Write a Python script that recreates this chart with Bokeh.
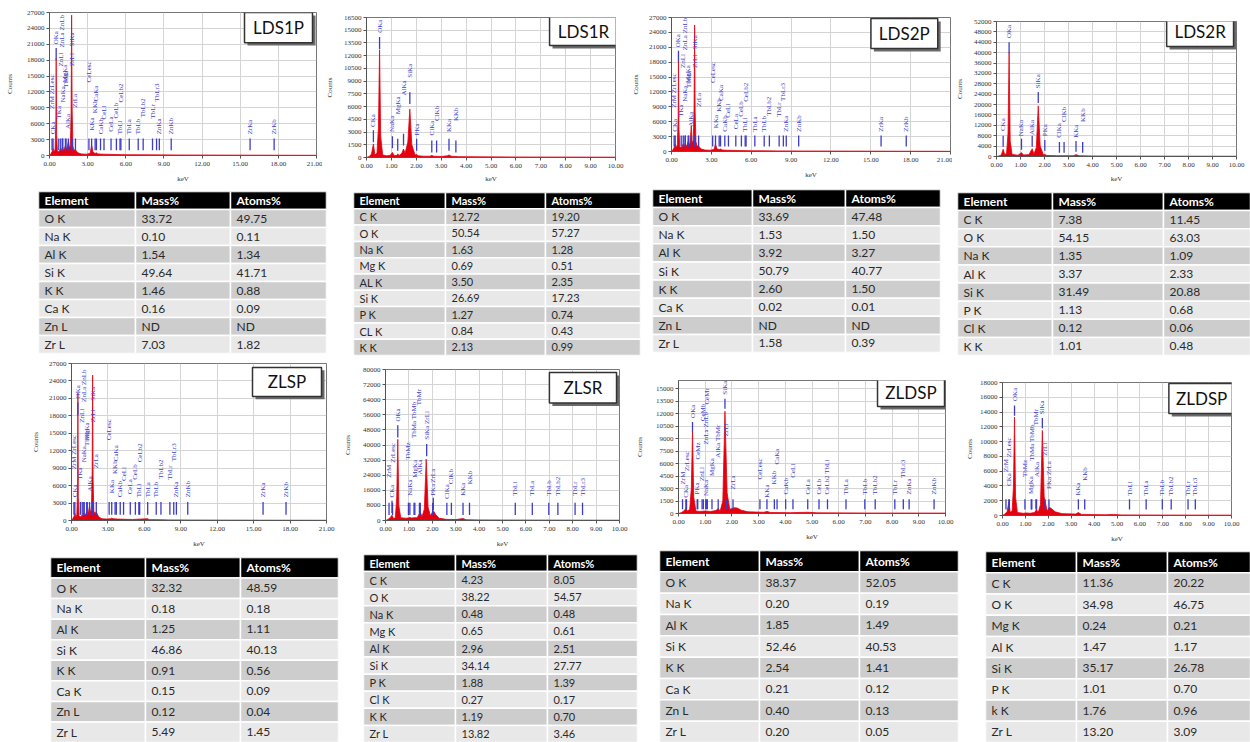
import math
from bokeh.plotting import figure
from bokeh.models import Range1d, FixedTicker, NumeralTickFormatter, BoxAnnotation, Label
from bokeh.layouts import column, row
from bokeh.core.properties import value
from bokeh.embed import file_html
from bokeh.resources import INLINE

RED = "#e3000f"
BLUE = "#3c3cc8"
SERIF = "Liberation Serif"
SANS = "Lato"
HEAD, DARK, LIGHT = "#000000", "#cdcdcd", "#e8e8e8"

# ---------------- spectra data (keV, counts) ----------------
LDS1P_E = [0.00, 0.10, 0.20, 0.28, 0.36, 0.44, 0.50, 0.525, 0.56, 0.62, 0.70, 0.80, 0.88, 0.95, 1.04, 1.10,
           1.18, 1.25, 1.32, 1.40, 1.49, 1.56, 1.64, 1.70, 1.74, 1.78, 1.84, 1.92, 2.04, 2.12, 2.25, 2.50,
           2.90, 3.20, 3.31, 3.42, 3.60, 3.69, 3.80, 4.20, 5.00, 6.00, 8.00, 10.00, 13.00, 16.00, 21.00]
LDS1P_C = [0, 300, 700, 1300, 600, 1200, 6000, 18300, 4000, 900, 700, 900, 1400, 800, 1600, 900,
           1300, 1900, 1200, 1600, 2800, 1500, 1800, 8000, 26500, 9000, 1800, 1000, 1100, 800, 500, 300,
           250, 400, 2000, 600, 400, 500, 300, 250, 200, 150, 120, 100, 80, 60, 40]

LDS1R_E = [0, 0.10, 0.20, 0.277, 0.34, 0.42, 0.48, 0.525, 0.57, 0.65, 0.80, 0.95, 1.041, 1.10, 1.20, 1.254,
           1.32, 1.42, 1.487, 1.55, 1.66, 1.74, 1.82, 1.95, 2.013, 2.08, 2.30, 2.55, 2.622, 2.70, 3.00,
           3.25, 3.313, 3.40, 3.70, 4.50, 6.00, 8.00, 10.00]
LDS1R_C = [0, 100, 400, 1600, 300, 500, 3500, 12700, 2500, 300, 200, 250, 600, 250, 250, 400,
           250, 500, 1000, 500, 1800, 5700, 1500, 300, 350, 200, 150, 150, 250, 150, 120,
           200, 300, 150, 100, 80, 60, 50, 40]

LDS2P_E = [0.00, 0.10, 0.20, 0.28, 0.36, 0.44, 0.50, 0.525, 0.56, 0.62, 0.70, 0.80, 0.88, 0.95, 1.04, 1.10,
           1.18, 1.25, 1.32, 1.40, 1.49, 1.56, 1.64, 1.70, 1.74, 1.78, 1.84, 1.92, 2.04, 2.12, 2.25, 2.50,
           2.90, 3.20, 3.31, 3.42, 3.60, 3.69, 3.80, 4.20, 5.00, 6.00, 8.00, 10.00, 13.00, 16.00, 21.00]
LDS2P_C = [0, 300, 800, 1500, 700, 1400, 6500, 19600, 4500, 1000, 800, 1000, 1500, 900, 1700, 1000,
           1400, 2000, 1300, 1800, 5200, 1700, 2200, 9000, 25500, 8000, 2000, 1100, 1100, 800, 500, 300,
           250, 400, 1500, 500, 400, 500, 300, 250, 200, 150, 120, 100, 80, 60, 40]

LDS2R_E = [0, 0.10, 0.20, 0.277, 0.34, 0.42, 0.48, 0.525, 0.57, 0.65, 0.90, 1.041, 1.12, 1.35, 1.487,
           1.56, 1.66, 1.74, 1.82, 1.95, 2.013, 2.10, 2.50, 3.20, 3.313, 3.45, 4.0, 6.0, 10.0]
LDS2R_C = [0, 200, 600, 2800, 800, 1200, 9000, 40000, 6000, 800, 500, 1500, 600, 700, 3000,
           900, 3500, 19500, 4000, 700, 800, 400, 300, 300, 700, 300, 200, 150, 100]

ZLSP_E = [0.00, 0.10, 0.20, 0.28, 0.36, 0.44, 0.50, 0.525, 0.56, 0.62, 0.70, 0.80, 0.88, 0.95, 1.04, 1.10,
          1.18, 1.25, 1.32, 1.40, 1.49, 1.56, 1.64, 1.70, 1.74, 1.78, 1.84, 1.95, 2.04, 2.12, 2.25, 2.50,
          2.90, 3.20, 3.31, 3.42, 3.80, 4.50, 5.00, 6.27, 6.40, 7.00, 8.00, 10.00, 13.00, 16.00, 21.00]
ZLSP_C = [0, 300, 700, 1200, 600, 1000, 5500, 21900, 4000, 800, 600, 700, 1000, 800, 1300, 900,
          1100, 1500, 1200, 1500, 2500, 1400, 1800, 8000, 25000, 7000, 1600, 1200, 1500, 1100, 600, 300,
          250, 300, 400, 300, 250, 200, 180, 300, 150, 150, 100, 80, 60, 50, 40]

ZLSR_E = [0, 0.10, 0.20, 0.277, 0.34, 0.42, 0.48, 0.525, 0.57, 0.65, 0.85, 0.98, 1.041, 1.12, 1.254, 1.35,
          1.487, 1.56, 1.66, 1.74, 1.82, 1.92, 2.042, 2.15, 2.30, 2.60, 3.0, 3.313, 3.45, 4.0, 5.0, 7.0, 10.0]
ZLSR_C = [0, 500, 1500, 2800, 1000, 1500, 12000, 43000, 8000, 1500, 1200, 1300, 1600, 1300, 1500, 1400,
          4400, 2000, 6000, 32500, 7000, 2500, 5200, 3000, 1200, 600, 500, 1000, 400, 300, 250, 200, 150]

ZLDSP1_E = [0, 0.10, 0.20, 0.277, 0.34, 0.42, 0.48, 0.525, 0.57, 0.65, 0.80, 1.00, 1.20, 1.40, 1.487, 1.56,
            1.66, 1.74, 1.82, 1.92, 2.00, 2.10, 2.20, 2.35, 2.60, 3.20, 3.313, 3.45, 4.20, 4.84, 5.20, 7.0, 10.0]
ZLDSP1_C = [0, 100, 300, 600, 300, 500, 3000, 9800, 2000, 300, 250, 300, 250, 350, 600, 300,
            1500, 12300, 2500, 500, 600, 700, 650, 400, 200, 150, 250, 120, 100, 150, 80, 60, 50]

ZLDSP2_E = [0, 0.10, 0.20, 0.277, 0.34, 0.42, 0.48, 0.525, 0.57, 0.65, 0.90, 1.041, 1.20, 1.40, 1.487, 1.56,
            1.66, 1.74, 1.82, 1.95, 2.05, 2.15, 2.30, 2.60, 3.20, 3.313, 3.45, 4.5, 4.84, 5.2, 7.0, 10.0]
ZLDSP2_C = [0, 200, 500, 1800, 400, 600, 4000, 13300, 2500, 400, 300, 350, 300, 400, 800, 400,
            1500, 11500, 2500, 600, 1100, 900, 500, 250, 200, 400, 150, 100, 150, 80, 60, 50]

# ---------------- peak markers (label, keV, label base counts, marker top counts) ----------------
P_LAB = ["CKa", "ZrM ZrLesc", "TKa", "OKa", "ZnLl", "ZnLa ZnLb", "NaKa", "MgKa", "TbMa", "AlKa", "SiKa",
         "ZrLl", "ZrLa", "CeLesc", "KKa", "KKb", "CaKa", "CaKb", "CeLl", "CeLa", "CeLb", "CeLb2", "TbLl",
         "TbLa", "TbLb", "TbLb2", "TbLr", "TbLr3", "ZnKa", "ZnKb", "ZrKa", "ZrKb"]
P_KEV = [0.277, 0.20, 0.73, 0.525, 0.884, 1.02, 1.041, 1.254, 1.30, 1.487, 1.74, 1.792, 2.042, 3.10, 3.313,
         3.59, 3.691, 4.013, 4.287, 4.84, 5.262, 5.613, 5.546, 6.273, 6.978, 7.367, 8.102, 8.42, 8.638,
         9.572, 15.775, 17.668]
P_LY = [4000, 8800, 7000, 21000, 16800, 20400, 10000, 13800, 12800, 5000, 20600, 16900, 9000, 13800, 4700,
        8000, 10200, 4000, 6800, 4500, 7000, 10000, 4000, 4000, 4000, 7200, 7000, 10200, 4000, 4000, 4000, 4000]
P_MT = [3200, 3200, 3200, 20300] + [3200] * 28

LDS1R_LAB = ["CKa", "OKa", "NaKa", "MgKa", "AlKa", "SiKa", "PKa", "ClKa", "ClKb", "KKa", "KKb"]
LDS1R_KEV = [0.277, 0.525, 1.041, 1.254, 1.487, 1.740, 2.013, 2.622, 2.816, 3.313, 3.590]
LDS1R_LY = [3600, 14700, 3000, 5100, 7300, 9400, 2600, 2600, 4300, 3000, 4300]
LDS1R_MT = [3200, 14200, 2500, 2200, 2800, 7700, 2200, 2000, 2000, 2200, 2000]

LDS2R_LAB = ["CKa", "OKa", "NaKa", "AlKa", "SiKa", "PKa", "ClKa", "ClKb", "KKa", "KKb"]
LDS2R_KEV = [0.277, 0.525, 1.041, 1.487, 1.740, 2.013, 2.622, 2.816, 3.313, 3.590]
LDS2R_LY = [9800, 45600, 7800, 8300, 26300, 7800, 7200, 13300, 7200, 13300]
LDS2R_MT = [8000, 44000, 6800, 8000, 24800, 6400, 5600, 5600, 6000, 5600]

ZLSR_LAB = ["ZrM", "CKa", "ZrLesc", "OKa", "TbMz", "NaKa", "MgKa", "TbMa TbMb", "TbMr", "AlKa", "SiKa ZrLl",
            "PKa", "ZrLa", "ClKa", "ClKb", "KKa", "KKb", "TbLl", "TbLa", "TbLb", "TbLb2", "TbLr", "TbLr3"]
ZLSR_KEV = [0.151, 0.277, 0.30, 0.525, 0.98, 1.041, 1.254, 1.22, 1.45, 1.487, 1.76, 2.013, 2.042, 2.622,
            2.816, 3.313, 3.590, 5.546, 6.273, 6.978, 7.367, 8.102, 8.42]
ZLSR_LY = [22700, 12200, 30600, 52400, 32300, 13100, 22700, 43700, 61100, 24400, 42800, 13100, 20000,
           11400, 19200, 13100, 19200, 13100, 13100, 13100, 13100, 13100, 13100]
ZLSR_MT = [9400, 10500, 9400, 50500, 9400, 9400, 9400, 9400, 9400, 9400, 40500, 9400, 12000, 9400, 9400,
           9400, 9400, 9400, 9400, 9400, 9400, 9400, 9400]

ZLDSP1_LAB = ["ZrM", "CKa", "ZrLesc", "OKa", "PKa", "CeMz", "ZnLl", "CeMb", "NaKa", "ZnLa ZnLb", "CeMr",
              "MgKa", "AlKa TbMr", "SiKa", "ZrLl", "ZrLa", "CeLesc", "KKa", "KKb", "CaKa", "CaKb", "CeLl",
              "CeLa", "CeLb", "CeLb2 TbLl", "TbLa", "TbLb", "TbLb2", "TbLr", "TbLr3", "ZnKa", "ZnKb"]
ZLDSP1_KEV = [0.151, 0.277, 0.30, 0.525, 0.70, 0.72, 0.884, 0.93, 1.041, 1.02, 1.08, 1.254, 1.487, 1.74,
              1.79, 2.042, 3.05, 3.313, 3.59, 3.691, 4.013, 4.287, 4.84, 5.262, 5.58, 6.273, 6.978, 7.367,
              8.102, 8.42, 8.638, 9.572]
ZLDSP1_LY = [3500, 1900, 5100, 11500, 2300, 6500, 3900, 11100, 2100, 8300, 13100, 4500, 6700, 14300, 9300,
             2900, 4100, 1900, 3500, 5900, 2300, 4300, 2300, 2300, 2300, 2300, 2300, 2300, 2300, 4300, 2300, 2300]
ZLDSP1_MT = [1700, 1700, 1700, 11000] + [1700] * 9 + [13800] + [1700] * 18

ZLDSP2_LAB = ["ZrM", "CKa", "ZrLesc", "OKa", "TbMz", "MgKa", "TbMa TbMb", "TbMr", "AlKa", "SiKa", "ZrLl",
              "PKa ZrLa", "KKa", "KKb", "TbLl", "TbLa", "TbLb", "TbLb2", "TbLr", "TbLr3"]
ZLDSP2_KEV = [0.151, 0.277, 0.30, 0.525, 0.98, 1.254, 1.28, 1.46, 1.487, 1.74, 1.86, 2.03, 3.313, 3.59,
              5.546, 6.273, 6.978, 7.367, 8.102, 8.42]
ZLDSP2_LY = [5900, 4000, 7900, 15500, 5200, 2900, 7400, 12200, 5200, 13700, 8100, 3600, 2700, 4700,
             2700, 2700, 2700, 2700, 2700, 2700]
ZLDSP2_MT = [2200, 2200, 2200, 14900, 2200, 2200, 2200, 2200, 2200, 13200] + [2200] * 10

# ---------------- axis ticks ----------------
X21 = [0, 3, 6, 9, 12, 15, 18, 21]
X10 = [0, 1, 2, 3, 4, 5, 6, 7, 8, 9, 10]
Y27 = [0, 3000, 6000, 9000, 12000, 15000, 18000, 21000, 24000, 27000]
Y165 = [0, 1500, 3000, 4500, 6000, 7500, 9000, 10500, 12000, 13500, 15000, 16500]
Y52 = [0, 4000, 8000, 12000, 16000, 20000, 24000, 28000, 32000, 36000, 40000, 44000, 48000, 52000]
Y80 = [0, 8000, 16000, 24000, 32000, 40000, 48000, 56000, 64000, 72000, 80000]
Y15 = [0, 1500, 3000, 4500, 6000, 7500, 9000, 10500, 12000, 13500, 15000]
Y18 = [0, 2000, 4000, 6000, 8000, 10000, 12000, 14000, 16000, 18000]

# ---------------- composition tables ----------------
T_LDS1P_EL = ["O K", "Na K", "Al K", "Si  K", "K  K", "Ca K", "Zn L", "Zr L"]
T_LDS1P_MA = ["33.72", "0.10", "1.54", "49.64", "1.46", "0.16", "ND", "7.03"]
T_LDS1P_AT = ["49.75", "0.11", "1.34", "41.71", "0.88", "0.09", "ND", "1.82"]

T_LDS1R_EL = ["C K", "O K", "Na K", "Mg  K", "AL  K", "Si K", "P K", "CL K", "K K"]
T_LDS1R_MA = ["12.72", "50.54", "1.63", "0.69", "3.50", "26.69", "1.27", "0.84", "2.13"]
T_LDS1R_AT = ["19.20", "57.27", "1.28", "0.51", "2.35", "17.23", "0.74", "0.43", "0.99"]

T_LDS2P_EL = ["O K", "Na K", "Al K", "Si  K", "K  K", "Ca K", "Zn L", "Zr L"]
T_LDS2P_MA = ["33.69", "1.53", "3.92", "50.79", "2.60", "0.02", "ND", "1.58"]
T_LDS2P_AT = ["47.48", "1.50", "3.27", "40.77", "1.50", "0.01", "ND", "0.39"]

T_LDS2R_EL = ["C K", "O K", "Na K", "Al K", "Si  K", "P K", "Cl K", "K K"]
T_LDS2R_MA = ["7.38", "54.15", "1.35", "3.37", "31.49", "1.13", "0.12", "1.01"]
T_LDS2R_AT = ["11.45", "63.03", "1.09", "2.33", "20.88", "0.68", "0.06", "0.48"]

T_ZLSP_EL = ["O K", "Na K", "Al K", "Si  K", "K  K", "Ca K", "Zn L", "Zr L"]
T_ZLSP_MA = ["32.32", "0.18", "1.25", "46.86", "0.91", "0.15", "0.12", "5.49"]
T_ZLSP_AT = ["48.59", "0.18", "1.11", "40.13", "0.56", "0.09", "0.04", "1.45"]

T_ZLSR_EL = ["C K", "O K", "Na K", "Mg K", "Al K", "Si K", "P K", "Cl K", "K K", "Zr L"]
T_ZLSR_MA = ["4.23", "38.22", "0.48", "0.65", "2.96", "34.14", "1.88", "0.27", "1.19", "13.82"]
T_ZLSR_AT = ["8.05", "54.57", "0.48", "0.61", "2.51", "27.77", "1.39", "0.17", "0.70", "3.46"]

T_ZLDSP1_EL = ["O K", "Na K", "Al K", "Si  K", "K  K", "Ca K", "Zn L", "Zr L"]
T_ZLDSP1_MA = ["38.37", "0.20", "1.85", "52.46", "2.54", "0.21", "0.40", "0.20"]
T_ZLDSP1_AT = ["52.05", "0.19", "1.49", "40.53", "1.41", "0.12", "0.13", "0.05"]

T_ZLDSP2_EL = ["C K", "O K", "Mg K", "Al  K", "Si  K", "P K", "k K", "Zr L"]
T_ZLDSP2_MA = ["11.36", "34.98", "0.24", "1.47", "35.17", "1.01", "1.76", "13.20"]
T_ZLDSP2_AT = ["20.22", "46.75", "0.21", "1.17", "26.78", "0.70", "0.96", "3.09"]


def spectrum(w, h, bl, br, bt, bb, xmax, xticks, ymax, yticks, ylab_so, xlab_so,
             E, C, lab, kev, ly, mt, seg, name, box):
    p = figure(width=w, height=h, x_range=Range1d(0, xmax), y_range=Range1d(0, ymax),
               output_backend="svg", toolbar_location=None,
               min_border_left=bl, min_border_right=br, min_border_top=bt, min_border_bottom=bb)
    p.background_fill_color = "white"
    p.border_fill_color = "white"
    p.outline_line_color = "#777777"
    p.xaxis.ticker = FixedTicker(ticks=xticks)
    p.yaxis.ticker = FixedTicker(ticks=yticks)
    p.xaxis.formatter = NumeralTickFormatter(format="0.00")
    p.yaxis.formatter = NumeralTickFormatter(format="0")
    p.xaxis.axis_label = "keV"
    p.yaxis.axis_label = "Counts"
    for ax in p.axis:
        ax.major_label_text_font = SERIF
        ax.major_label_text_font_size = "7px"
        ax.major_label_text_color = "#333333"
        ax.axis_label_text_font = SERIF
        ax.axis_label_text_font_size = "7px"
        ax.axis_label_text_font_style = "normal"
        ax.axis_label_text_color = "#333333"
        ax.major_tick_out = 3
        ax.major_tick_in = 0
        ax.minor_tick_out = 0
        ax.minor_tick_in = 0
        ax.axis_line_color = "#555555"
        ax.major_tick_line_color = "#555555"
        ax.major_label_standoff = 2
    p.xaxis.major_label_standoff = 3
    p.xaxis.axis_label_standoff = xlab_so
    p.yaxis.axis_label_standoff = ylab_so
    p.grid.grid_line_color = "#d4d4d4"
    p.varea(x=E, y1=0, y2=C, fill_color=RED)
    p.line(E, C, line_color=RED, line_width=0.8)
    lo = [t - seg for t in mt]
    p.segment(x0=kev, y0=lo, x1=kev, y1=mt, line_color=BLUE, line_width=1.3)
    p.text(x=kev, y=ly, text=lab, angle=math.pi / 2, text_align="left", text_baseline="middle",
           text_font=value(SERIF), text_font_size="7px", text_color=BLUE)
    fw = w - bl - br
    fh = h - bt - bb
    sx = xmax / fw
    sy = ymax / fh
    ox, oy, bw, bh = box
    xl = ox * sx
    xr = (ox + bw) * sx
    yt = ymax - oy * sy
    yb = ymax - (oy + bh) * sy
    # drop shadow of the sample-name box
    p.add_layout(BoxAnnotation(left=xl + 3 * sx, right=xr + 3 * sx, top=yt - 3 * sy, bottom=yb - 3 * sy,
                               fill_color="#6a6a6a", fill_alpha=1.0, line_color=None))
    p.add_layout(BoxAnnotation(left=xl, right=xr, top=yt, bottom=yb, fill_color="white", fill_alpha=1.0,
                               line_color="#333333", line_width=1.5, line_alpha=1.0))
    p.add_layout(Label(x=(xl + xr) / 2, y=(yt + yb) / 2, text=name, text_align="center",
                       text_baseline="middle", text_font=SANS, text_font_size="17px", text_color="#111111"))
    return column(p)


def table(w, h, bl, br, bt, bb, edges, elems, mass, atoms, fs):
    n = len(elems) + 1
    fw = w - bl - br
    p = figure(width=w, height=h, x_range=Range1d(0, fw), y_range=Range1d(n, 0),
               output_backend="svg", toolbar_location=None,
               x_axis_location=None, y_axis_location=None,
               min_border_left=bl, min_border_right=br, min_border_top=bt, min_border_bottom=bb)
    p.outline_line_color = None
    p.background_fill_color = "white"
    p.border_fill_color = "white"
    L, R, T, B, F = [], [], [], [], []
    for r in range(n):
        fill = HEAD if r == 0 else (DARK if r % 2 == 1 else LIGHT)
        for c in range(3):
            L.append(edges[c]); R.append(edges[c + 1]); T.append(r); B.append(r + 1); F.append(fill)
    p.quad(left=L, right=R, top=T, bottom=B, fill_color=F, line_color="white", line_width=1.5)
    p.text(x=[edges[c] + 6 for c in range(3)], y=[0.5] * 3, text=["Element", "Mass%", "Atoms%"],
           text_color="white", text_font_style="bold", text_font=value(SANS), text_font_size=fs,
           text_align="left", text_baseline="middle")
    bx, by, bt_ = [], [], []
    for i, cells in enumerate(zip(elems, mass, atoms)):
        for c, s in enumerate(cells):
            bx.append(edges[c] + 6); by.append(i + 1.5); bt_.append(s)
    p.text(x=bx, y=by, text=bt_, text_color="#2a2a2a", text_font=value(SANS), text_font_size=fs,
           text_align="left", text_baseline="middle")
    return column(p)


# top row spectra (height 185)
sA = spectrum(322, 185, 49, 6, 12, 26, 21, X21, 27000, Y27, 10, 6, LDS1P_E, LDS1P_C,
              P_LAB, P_KEV, P_LY, P_MT, 2200, "LDS1P", (195, 0, 68, 31))
sB = spectrum(306, 185, 40, 13, 17, 23, 10, X10, 16500, Y165, 7, 4, LDS1R_E, LDS1R_C,
              LDS1R_LAB, LDS1R_KEV, LDS1R_LY, LDS1R_MT, 1400, "LDS1R", (186, -1, 69, 30))
sC = spectrum(324, 185, 38, 2, 17, 34, 21, X21, 27000, Y27, 6, 6, LDS2P_E, LDS2P_C,
              P_LAB, P_KEV, P_LY, P_MT, 2200, "LDS2P", (203, 1, 68, 30))
sD = spectrum(298, 185, 40, 14, 21, 24, 10, X10, 52000, Y52, 7, 5, LDS2R_E, LDS2R_C,
              LDS2R_LAB, LDS2R_KEV, LDS2R_LY, LDS2R_MT, 4200, "LDS2R", (173, -5, 68, 31))

# top row tables (height 172)
tA = table(340, 172, 38, 14, 6, 4, [0, 97, 192, 288], T_LDS1P_EL, T_LDS1P_MA, T_LDS1P_AT, "12px")
tB = table(306, 172, 13, 6, 7, 2, [0, 92, 192, 287], T_LDS1R_EL, T_LDS1R_MA, T_LDS1R_AT, "11px")
tC = table(304, 172, 6, 10, 4, 5, [0, 100, 193, 288], T_LDS2P_EL, T_LDS2P_MA, T_LDS2P_AT, "12px")
tD = table(300, 172, 7, 0, 7, 2, [0, 95, 206, 293], T_LDS2R_EL, T_LDS2R_MA, T_LDS2R_AT, "12px")

# bottom row spectra (height 193)
sE = spectrum(340, 193, 71, 14, 6, 25, 21, X21, 27000, Y27, 6, 6, ZLSP_E, ZLSP_C,
              P_LAB, P_KEV, P_LY, P_MT, 2200, "ZLSP", (181, 4, 69, 30))
sF = spectrum(292, 193, 42, 13, 12, 28, 10, X10, 80000, Y80, 8, 6, ZLSR_E, ZLSR_C,
              ZLSR_LAB, ZLSR_KEV, ZLSR_LY, ZLSR_MT, 6500, "ZLSR", (166, 3, 68, 31))
sG = spectrum(330, 193, 42, 17, 23, 37, 10, X10, 16000, Y15, 9, 6, ZLDSP1_E, ZLDSP1_C,
              ZLDSP1_LAB, ZLDSP1_KEV, ZLDSP1_LY, ZLDSP1_MT, 1200, "ZLDSP", (202, -3, 68, 29))
sH = spectrum(288, 193, 35, 19, 25, 35, 10, X10, 18000, Y18, 3, 6, ZLDSP2_E, ZLDSP2_C,
              ZLDSP2_LAB, ZLDSP2_KEV, ZLDSP2_LY, ZLDSP2_MT, 1400, "ZLDSP", (170, 1, 67, 30))

# bottom row tables (height 192)
tE = table(345, 192, 50, 7, 7, 0, [0, 95, 190, 288], T_ZLSP_EL, T_ZLSP_MA, T_ZLSP_AT, "12px")
tF = table(305, 192, 18, 13, 4, 0, [0, 92, 184, 274], T_ZLSR_EL, T_ZLSR_MA, T_ZLSR_AT, "11px")
tG = table(320, 192, 9, 12, 0, 0, [0, 100, 200, 299], T_ZLDSP1_EL, T_ZLDSP1_MA, T_ZLDSP1_AT, "12px")
tH = table(280, 192, 15, 0, 1, 0, [0, 91, 182, 265], T_ZLDSP2_EL, T_ZLDSP2_MA, T_ZLDSP2_AT, "12px")

p = column(row(sA, sB, sC, sD), row(tA, tB, tC, tD), row(sE, sF, sG, sH), row(tE, tF, tG, tH))

open("out.html", "w").write(file_html(p, INLINE))
